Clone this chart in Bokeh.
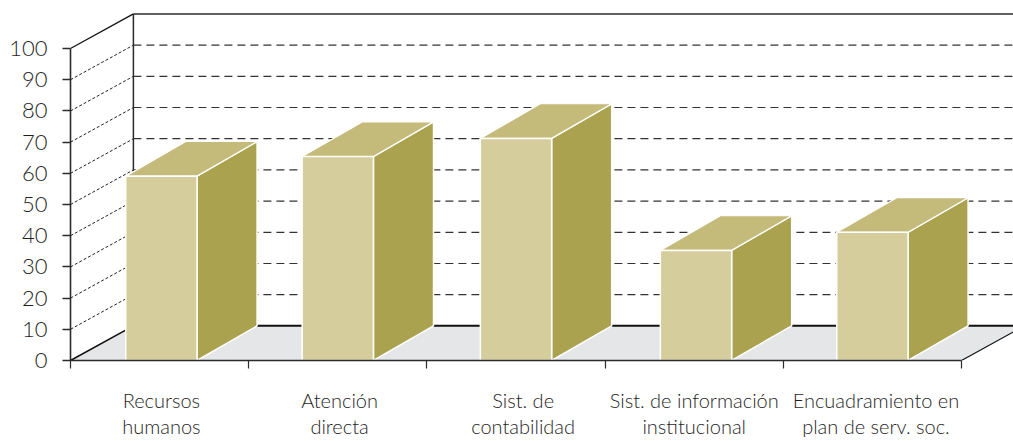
from bokeh.plotting import figure
from bokeh.models import LinearAxis, FixedTicker, Range1d
from bokeh.embed import file_html
from bokeh.resources import INLINE

categories = ["Recursos\nhumanos", "Atención\ndirecta", "Sist. de\ncontabilidad",
              "Sist. de información\ninstitucional", "Encuadramiento en\nplan de serv. soc."]
label_pos = [0.51, 1.51, 2.54, 3.5, 4.52]
values = [59.1, 65.4, 71.2, 35.3, 41.1]
y_ticks = list(range(0, 101, 10))
bar_left = [0.31, 1.30, 2.30, 3.31, 4.30]
BAR_W = 0.40
DX = 0.353      # depth of the chart floor, in category units
DY = 11.1       # depth of the chart floor, in value units
BAR_DX = 0.337
XMAX = 943 / 178.2
FONT = "Lato Light"
TXT = "#1f1f1f"
LINE = "#2b2b2b"

p = figure(width=1013, height=441, output_backend="svg", toolbar_location=None,
           x_range=Range1d(0, XMAX), y_range=Range1d(0, 349.5 / 3.115),
           x_axis_type=None, y_axis_type=None,
           min_border_left=70, min_border_right=0, min_border_top=10, min_border_bottom=0,
           outline_line_color=None, margin=0)
p.frame_width = 943
p.frame_height = 350
p.xgrid.visible = False
p.ygrid.visible = False

# floor
p.patch([0, 5, 5 + DX, DX], [0, 0, DY, DY], fill_color="#e5e6e8", line_color=None)
p.line([0, DX], [0, DY], line_color="#111111", line_width=1.6)
p.line([5, 5 + DX], [0, DY], line_color="#111111", line_width=1.2)
p.line([DX, XMAX], [DY, DY], line_color="#111111", line_width=2)

# back wall
p.line([DX, DX], [DY, 100 + DY], line_color=LINE, line_width=1.5)
p.line([0, DX], [100, 100 + DY], line_color="#111111", line_width=1.3)
p.line([DX, XMAX], [100 + DY, 100 + DY], line_color=LINE, line_width=1.5)
grid = [v for v in y_ticks if 0 < v < 100]
p.multi_line([[0, DX] for _ in grid], [[v, v + DY] for v in grid],
             line_color="#222222", line_width=1, line_dash="3 2")
p.multi_line([[DX, XMAX] for _ in grid], [[v + DY, v + DY] for v in grid],
             line_color="#333333", line_width=1.2, line_dash="8 5")

# bars
for x, v in zip(bar_left, values):
    r = x + BAR_W
    p.patch([r, r + BAR_DX, r + BAR_DX, r], [0, DY, v + DY, v],
            fill_color="#aba24f", line_color="white", line_width=1.5)
    p.patch([x, r, r + BAR_DX, x + BAR_DX], [v, v, v + DY, v + DY],
            fill_color="#c4ba7a", line_color="white", line_width=1.2)
    p.patch([x, r, r, x], [0, 0, v, v],
            fill_color="#d5cd9b", line_color="white", line_width=1.5)

# axes
ya = LinearAxis(ticker=FixedTicker(ticks=y_ticks), bounds=(0, 100))
ya.axis_line_color = LINE
ya.axis_line_width = 1.6
ya.major_tick_line_color = LINE
ya.major_tick_line_width = 1.3
ya.major_tick_in = 0
ya.major_tick_out = 8
ya.minor_tick_line_color = None
ya.major_label_standoff = 15
ya.major_label_text_font = FONT
ya.major_label_text_font_size = "22px"
ya.major_label_text_color = TXT
p.add_layout(ya, "left")

xa = LinearAxis(ticker=FixedTicker(ticks=label_pos, minor_ticks=[0, 1, 2, 3, 4, 5]), bounds=(0, 5))
xa.major_label_overrides = {t: c for t, c in zip(label_pos, categories)}
xa.axis_line_color = LINE
xa.axis_line_width = 1.6
xa.major_tick_line_color = None
xa.major_tick_in = 0
xa.major_tick_out = 0
xa.minor_tick_line_color = LINE
xa.minor_tick_line_width = 1.2
xa.minor_tick_in = 0
xa.minor_tick_out = 8
xa.major_label_standoff = 19
xa.major_label_text_font = FONT
xa.major_label_text_font_size = "20px"
xa.major_label_text_color = TXT
xa.major_label_text_line_height = 1.1
p.add_layout(xa, "below")

open("out.html", "w").write(file_html(p, INLINE))
